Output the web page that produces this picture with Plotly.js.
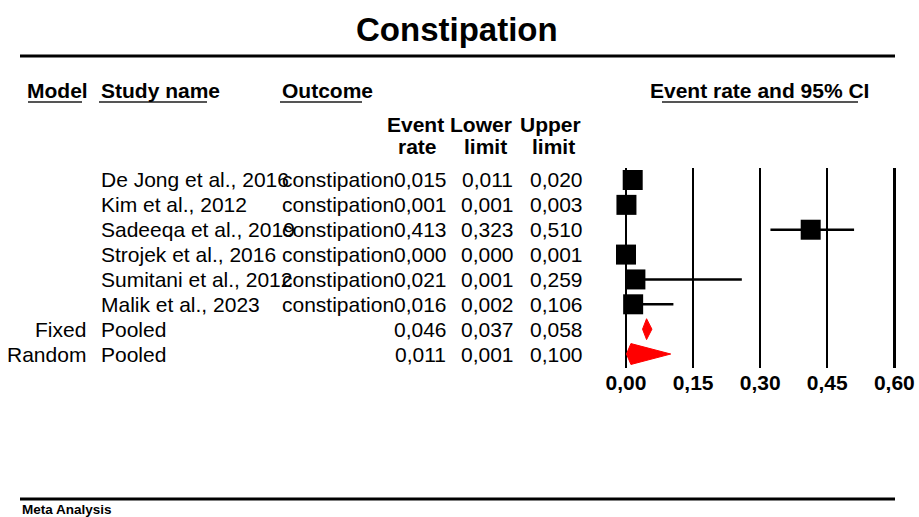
<!DOCTYPE html>
<html>
<head>
<meta charset="utf-8">
<script src="https://cdn.plot.ly/plotly-3.0.1.min.js"></script>
<style>
  html, body { margin: 0; padding: 0; background: #fff; }
  #chart { width: 919px; height: 517px; }
</style>
</head>
<body>
<div id="chart"></div>
<script>
// Study-level results
const studies  = ['De Jong et al., 2016', 'Kim et al., 2012', 'Sadeeqa et al., 2019',
                  'Strojek et al., 2016', 'Sumitani et al., 2012', 'Malik et al., 2023'];
const outcomes = ['constipation', 'constipation', 'constipation',
                  'constipation', 'constipation', 'constipation'];
const rates    = [0.015, 0.001, 0.413, 0.000, 0.021, 0.016];
const lowers   = [0.011, 0.001, 0.323, 0.000, 0.001, 0.002];
const uppers   = [0.020, 0.003, 0.510, 0.001, 0.259, 0.106];

// Pooled estimates
const models      = ['Fixed', 'Random'];
const pooledRates = [0.046, 0.011];
const pooledLower = [0.037, 0.001];
const pooledUpper = [0.058, 0.100];

// Axis ticks
const tickValues = [0, 0.15, 0.30, 0.45, 0.60];
const tickLabels = ['0,00', '0,15', '0,30', '0,45', '0,60'];

const W = 919, H = 517;
const px = x => x / W;
const py = y => 1 - y / H;
const fmt = v => v.toFixed(3).replace('.', ',');
const FONT = 'Liberation Sans, Arial, Helvetica, sans-serif';
const TXT = 21;

const nStudies = studies.length;
const studyRows = studies.map((_, i) => i);
const pooledRows = models.map((_, i) => nStudies + i);

const traces = [];

// Study squares with confidence intervals
traces.push({
  type: 'scatter', mode: 'markers',
  x: rates, y: studyRows,
  marker: { symbol: 'square', size: 20, color: '#000' },
  error_x: {
    type: 'data', symmetric: false,
    array: uppers.map((u, i) => u - rates[i]),
    arrayminus: rates.map((r, i) => r - lowers[i]),
    color: '#000', thickness: 2.5, width: 0
  },
  hoverinfo: 'skip', cliponaxis: false
});

// Pooled diamonds
const halfH = 0.42;
models.forEach((m, k) => {
  const row = pooledRows[k];
  traces.push({
    type: 'scatter', mode: 'lines', fill: 'toself',
    x: [pooledLower[k], pooledRates[k], pooledUpper[k], pooledRates[k], pooledLower[k]],
    y: [row, row - halfH, row, row + halfH, row],
    line: { color: '#ff0000', width: 1 }, fillcolor: '#ff0000',
    hoverinfo: 'skip'
  });
});

const ann = [];
const addText = (text, x, y, anchor, opts = {}) => {
  ann.push({
    text, x: px(x), xref: 'paper', y, yref: opts.yref || 'y',
    xanchor: anchor, yanchor: 'middle', showarrow: false,
    font: { family: FONT, size: opts.size || TXT, color: '#000' }
  });
};

// Title and header
addText('<b>Constipation</b>', 457, py(30), 'center', { yref: 'paper', size: 33 });
addText('<b>Model</b>', 25, py(90), 'left', { yref: 'paper' });
addText('<b>Study name</b>', 99, py(90), 'left', { yref: 'paper' });
addText('<b>Outcome</b>', 280, py(90), 'left', { yref: 'paper' });
addText('<b>Event rate and 95% CI</b>', 648, py(90), 'left', { yref: 'paper' });
addText('<b>Event</b>', 415, py(125), 'center', { yref: 'paper' });
addText('<b>rate</b>', 417, py(146), 'center', { yref: 'paper' });
addText('<b>Lower</b>', 481, py(125), 'center', { yref: 'paper' });
addText('<b>limit</b>', 485, py(146), 'center', { yref: 'paper' });
addText('<b>Upper</b>', 550, py(125), 'center', { yref: 'paper' });
addText('<b>limit</b>', 553, py(146), 'center', { yref: 'paper' });
addText('<b>Meta Analysis</b>', 20, py(509), 'left', { yref: 'paper', size: 13.5 });

// Table rows
studies.forEach((s, i) => {
  addText(s, 99, studyRows[i], 'left');
  addText(outcomes[i], 280, studyRows[i], 'left');
  addText(fmt(rates[i]), 420, studyRows[i], 'center');
  addText(fmt(lowers[i]), 487, studyRows[i], 'center');
  addText(fmt(uppers[i]), 556, studyRows[i], 'center');
});
models.forEach((m, k) => {
  const row = pooledRows[k];
  addText(m, 88, row, 'right');
  addText('Pooled', 99, row, 'left');
  addText(fmt(pooledRates[k]), 420, row, 'center');
  addText(fmt(pooledLower[k]), 487, row, 'center');
  addText(fmt(pooledUpper[k]), 556, row, 'center');
});

// Rules and header underlines
const hline = (x0, x1, y, width, color) => ({
  type: 'line', xref: 'paper', yref: 'paper',
  x0: px(x0), x1: px(x1), y0: py(y), y1: py(y),
  line: { color, width }
});
const shapes = [
  hline(20, 895, 56, 3, '#000'),
  hline(20, 895, 499, 3, '#000'),
  hline(28, 82, 102, 2, '#555'),
  hline(99, 207, 102, 2, '#555'),
  hline(280, 362, 102, 2, '#555'),
  hline(662, 858, 102, 2, '#555')
];

// Horizontal scale: 0 at 626px, 447.2px per unit; a small pad keeps the
// edge grid lines (0,00 and 0,60) inside the plot area so they are drawn.
const x0px = 626, unitPx = 447.2, pad = 0.012;
const xr = [-pad, 0.6 + pad];

// Row geometry: first row at 180px, 24.86px per row; plot band 168px..368px
const rowPx = 24.86, row0 = 180, bandTop = 168, bandBottom = 368;

const layout = {
  width: W, height: H,
  margin: { l: 0, r: 0, t: 0, b: 0 },
  paper_bgcolor: '#fff', plot_bgcolor: 'rgba(0,0,0,0)',
  showlegend: false,
  xaxis: {
    domain: [px(x0px + xr[0] * unitPx), px(x0px + xr[1] * unitPx)], range: xr,
    tickvals: tickValues, ticktext: tickLabels,
    showgrid: true, gridcolor: '#000', gridwidth: 2.5,
    zeroline: false, showline: false, ticks: '',
    tickfont: { family: FONT, size: TXT, color: '#000', weight: 'bold' },
    fixedrange: true
  },
  yaxis: {
    domain: [py(bandBottom), py(bandTop)],
    range: [(bandBottom - row0) / rowPx, (bandTop - row0) / rowPx],
    showgrid: false, zeroline: false, showticklabels: false, ticks: '',
    fixedrange: true
  },
  annotations: ann,
  shapes
};

Plotly.newPlot('chart', traces, layout, { displayModeBar: false, staticPlot: true });
</script>
</body>
</html>
